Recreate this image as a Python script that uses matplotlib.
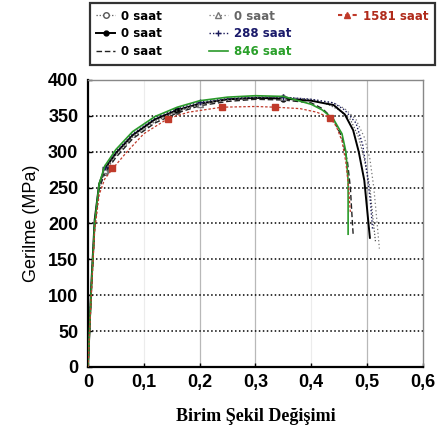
import matplotlib
matplotlib.use("Agg")
import matplotlib.pyplot as plt
from matplotlib.lines import Line2D

# ---------------- data (strain, stress in MPa) ----------------
s1_x = [0, 0.006, 0.012, 0.02, 0.03, 0.05, 0.08, 0.12, 0.16, 0.2, 0.25, 0.3, 0.35, 0.4, 0.43, 0.45, 0.47, 0.485, 0.495, 0.505, 0.51, 0.515]
s1_y = [0, 110, 200, 250, 272, 295, 320, 342, 356, 366, 372, 375, 375, 372, 366, 358, 345, 320, 290, 250, 210, 175]

s2_x = [0, 0.006, 0.012, 0.02, 0.03, 0.05, 0.08, 0.12, 0.16, 0.2, 0.25, 0.3, 0.35, 0.4, 0.44, 0.46, 0.475, 0.485, 0.495, 0.5, 0.505]
s2_y = [0, 115, 205, 255, 276, 298, 323, 345, 358, 367, 373, 375, 374, 371, 365, 352, 330, 300, 260, 220, 180]

s3_x = [0, 0.006, 0.012, 0.02, 0.03, 0.05, 0.08, 0.12, 0.16, 0.2, 0.25, 0.3, 0.35, 0.4, 0.42, 0.44, 0.455, 0.465, 0.47, 0.473, 0.475]
s3_y = [0, 105, 195, 248, 270, 292, 318, 340, 354, 364, 370, 373, 372, 368, 360, 345, 320, 285, 250, 210, 185]

s4_x = [0, 0.006, 0.012, 0.02, 0.03, 0.05, 0.08, 0.12, 0.16, 0.2, 0.25, 0.3, 0.35, 0.4, 0.44, 0.46, 0.48, 0.495, 0.505, 0.512, 0.518, 0.522]
s4_y = [0, 108, 198, 252, 274, 296, 321, 343, 357, 367, 373, 376, 376, 373, 368, 360, 345, 320, 290, 250, 200, 165]

s5_x = [0, 0.006, 0.012, 0.02, 0.03, 0.05, 0.08, 0.12, 0.16, 0.2, 0.25, 0.3, 0.35, 0.4, 0.44, 0.46, 0.48, 0.492, 0.5, 0.506, 0.51]
s5_y = [0, 112, 202, 254, 278, 300, 325, 347, 360, 369, 374, 376, 376, 373, 368, 358, 340, 310, 270, 230, 190]

s6_x = [0, 0.006, 0.012, 0.02, 0.03, 0.05, 0.08, 0.12, 0.16, 0.2, 0.25, 0.3, 0.35, 0.4, 0.42, 0.44, 0.455, 0.462, 0.466, 0.466]
s6_y = [0, 110, 200, 255, 280, 303, 328, 349, 362, 371, 376, 378, 377, 366, 358, 345, 325, 300, 260, 185]

s7_x = [0, 0.006, 0.012, 0.02, 0.03, 0.045, 0.07, 0.1, 0.143, 0.18, 0.24, 0.3, 0.335, 0.38, 0.41, 0.434, 0.445, 0.455, 0.462, 0.467, 0.47]
s7_y = [0, 100, 190, 240, 262, 277, 300, 325, 346, 355, 362, 363, 362, 360, 355, 347, 335, 315, 285, 250, 215]
s7_mark_x = [0.043, 0.143, 0.24, 0.335, 0.434]
s7_mark_y = [277, 346, 362, 362, 347]

labels = ["0 saat", "0 saat", "0 saat", "0 saat", "288 saat", "846 saat", "1581 saat"]
x_ticks = [0, 0.1, 0.2, 0.3, 0.4, 0.5, 0.6]
x_ticklabels = ["0", "0,1", "0,2", "0,3", "0,4", "0,5", "0,6"]
y_ticks = [0, 50, 100, 150, 200, 250, 300, 350, 400]

# ---------------- figure ----------------
fig = plt.figure(figsize=(4.41, 4.32), dpi=100)
ax = fig.add_axes([0.1995, 0.1505, 0.7595, 0.6645])

# grid
for yv in y_ticks[1:-1]:
    ax.axhline(yv, color="black", lw=1.1, ls=(0, (1, 1.6)), zorder=1)
for xv in [0.1, 0.4]:
    ax.axvline(xv, color="#ececec", lw=0.8, zorder=0)
for xv in [0.2, 0.3, 0.5]:
    ax.axvline(xv, color="#b8b8b8", lw=0.9, zorder=0)

h1, = ax.plot(s1_x, s1_y, color="#555555", lw=0.9, ls=(0, (1, 1.5)), marker="o", mfc="white", ms=4,
              markevery=[4, 8, 12], zorder=3)
h2, = ax.plot(s2_x, s2_y, color="black", lw=1.4, marker="o", ms=3.5, markevery=[4, 8, 12], zorder=3)
h3, = ax.plot(s3_x, s3_y, color="#222222", lw=1.0, ls=(0, (4, 2)), zorder=3)
h4, = ax.plot(s4_x, s4_y, color="#777777", lw=0.9, ls=(0, (1, 2)), marker="^", mfc="white", ms=4,
              markevery=[4, 9, 12], zorder=3)
h5, = ax.plot(s5_x, s5_y, color="#1a1a5a", lw=1.0, ls=(0, (1, 1.5)), marker="+", ms=4,
              markevery=[4, 9, 12], zorder=3)
h6, = ax.plot(s6_x, s6_y, color="#2a9a2a", lw=1.2, zorder=4)
h7, = ax.plot(s7_x, s7_y, color="#c03a2a", lw=0.9, ls=(0, (2, 1.5)), zorder=4)
ax.plot(s7_mark_x, s7_mark_y, ls="none", marker="s", color="#c03a2a", ms=4, zorder=5)

ax.set_xlim(0, 0.6)
ax.set_ylim(0, 400)
ax.set_xticks(x_ticks)
ax.set_xticklabels(x_ticklabels)
ax.set_yticks(y_ticks)
ax.tick_params(axis="both", direction="in", length=3, labelsize=13, width=1)
ax.tick_params(axis="x", pad=5)
ax.tick_params(axis="y", pad=7)
for lab in ax.get_xticklabels() + ax.get_yticklabels():
    lab.set_fontfamily("Liberation Sans")
    lab.set_fontweight("bold")

for side in ["left", "bottom"]:
    ax.spines[side].set_color("black")
    ax.spines[side].set_linewidth(1.6)
for side in ["top", "right"]:
    ax.spines[side].set_color("#888888")
    ax.spines[side].set_linewidth(1.0)

ax.set_ylabel("Gerilme (MPa)", fontsize=13, family="Liberation Sans", labelpad=6)
ax.set_xlabel("Birim Şekil Değişimi", fontsize=13, family="Liberation Serif", fontweight="bold", labelpad=12)

# legend
blank = Line2D([], [], color="none")
leg_h = [h1, h2, h3, h4, h5, h6,
         Line2D([], [], color="#c03a2a", ls=(0, (2, 1.5)), marker="^", ms=4), blank, blank]
leg_l = labels + ["", ""]
leg_c = ["black", "black", "black", "#666666", "#1a1a6a", "#2aa02a", "#b02a1a", "black", "black"]
leg = fig.legend(leg_h, leg_l, ncol=3, loc="upper left",
                 bbox_to_anchor=(0.204, 0.861, 0.782, 0.132), mode="expand",
                 frameon=True, fancybox=False, edgecolor="black",
                 handlelength=1.6, handletextpad=0.5, labelspacing=0.42, borderaxespad=0,
                 borderpad=0.55, labelcolor=leg_c, prop={"weight": "bold", "size": 8.5})
leg.get_frame().set_linewidth(1.6)

fig.savefig("out.png", dpi=100)
